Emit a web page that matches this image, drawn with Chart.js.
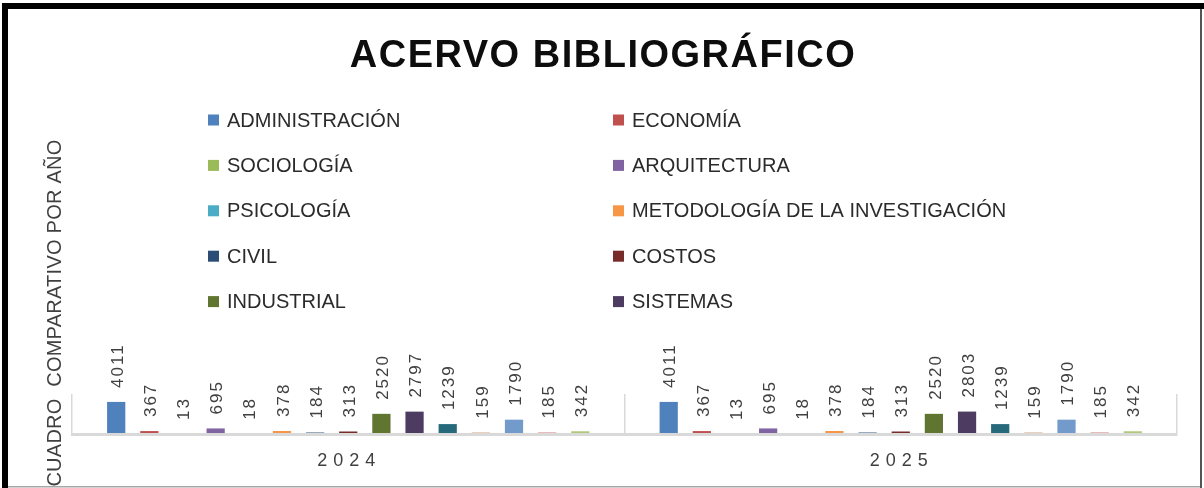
<!DOCTYPE html>
<html>
<head>
<meta charset="utf-8">
<script src="https://cdn.jsdelivr.net/npm/chart.js@4"></script>
<style>
  body { margin: 0; background: #fff; }
  #wrap { width: 1204px; height: 488px; }
</style>
</head>
<body>
<div id="wrap"><canvas id="chart" width="1204" height="488"></canvas></div>
<script>
const years = ['2024', '2025'];
const seriesNames = [
    'ADMINISTRACIÓN', 'ECONOMÍA', 'SOCIOLOGÍA', 'ARQUITECTURA', 'PSICOLOGÍA',
    'METODOLOGÍA DE LA INVESTIGACIÓN', 'CIVIL', 'COSTOS', 'INDUSTRIAL', 'SISTEMAS',
    '', '', '', '', ''
];
const values2024 = [4011, 367, 13, 695, 18, 378, 184, 313, 2520, 2797, 1239, 159, 1790, 185, 342];
const values2025 = [4011, 367, 13, 695, 18, 378, 184, 313, 2520, 2803, 1239, 159, 1790, 185, 342];
const seriesColors = [
    '#4F81BD', '#C0504D', '#9BBB59', '#8064A2', '#4BACC6',
    '#F79646', '#2C4D75', '#772C2A', '#5F7530', '#4D3B62',
    '#276A7C', '#B65708', '#729ACA', '#CD7371', '#AFC97A'
];
const chartTitle = 'ACERVO BIBLIOGRÁFICO';
const yTitle = 'CUADRO  COMPARATIVO POR AÑO';

const datasets = seriesNames.map((name, i) => ({
    label: name,
    data: [values2024[i], values2025[i]],
    backgroundColor: seriesColors[i],
    borderWidth: 0,
    barPercentage: 0.55,
    categoryPercentage: 0.9
}));

// white page, frame, title, legend, axis title, value labels
const decor = {
    id: 'decor',
    beforeDraw(chart) {
        const ctx = chart.ctx;
        ctx.save();
        ctx.fillStyle = '#fff';
        ctx.fillRect(0, 0, chart.width, chart.height);
        ctx.restore();
    },
    afterDraw(chart) {
        const ctx = chart.ctx;
        const x = chart.scales.x;

        // value labels
        ctx.save();
        ctx.font = '17px "Liberation Sans", Arial, sans-serif';
        ctx.letterSpacing = '2px';
        ctx.fillStyle = '#404040';
        ctx.textAlign = 'left';
        ctx.textBaseline = 'middle';
        chart.data.datasets.forEach((ds, i) => {
            chart.getDatasetMeta(i).data.forEach((bar, j) => {
                ctx.save();
                ctx.translate(bar.x + 2, bar.y - 14);
                ctx.rotate(-Math.PI / 2);
                ctx.fillText(String(ds.data[j]), 0, 0);
                ctx.restore();
            });
        });
        ctx.restore();

        // category labels
        ctx.save();
        ctx.font = '18px "Liberation Sans", Arial, sans-serif';
        ctx.letterSpacing = '6px';
        ctx.fillStyle = '#404040';
        ctx.textAlign = 'center';
        ctx.textBaseline = 'middle';
        chart.data.labels.forEach((lab, i) => {
            ctx.fillText(lab, x.getPixelForValue(i) + 1, 461);
        });
        ctx.restore();

        // title
        ctx.save();
        ctx.font = 'bold 38px "Liberation Sans", Arial, sans-serif';
        ctx.letterSpacing = '1.5px';
        ctx.fillStyle = '#0d0d0d';
        ctx.textAlign = 'center';
        ctx.textBaseline = 'alphabetic';
        ctx.fillText(chartTitle, 603, 67);
        ctx.restore();

        // y axis title
        ctx.save();
        ctx.font = '20px "Liberation Sans", Arial, sans-serif';
        ctx.letterSpacing = '0.25px';
        ctx.fillStyle = '#404040';
        ctx.textAlign = 'center';
        ctx.textBaseline = 'middle';
        ctx.translate(55, 313);
        ctx.rotate(-Math.PI / 2);
        ctx.fillText(yTitle, 0, 0);
        ctx.restore();

        // legend, two columns, only the named series
        ctx.save();
        ctx.font = '20px "Liberation Sans", Arial, sans-serif';
        ctx.textAlign = 'left';
        ctx.textBaseline = 'middle';
        const colX = [208, 613];
        chart.data.datasets.forEach((ds, i) => {
            if (!ds.label) return;
            const cx = colX[i % 2];
            const cy = 120 + Math.floor(i / 2) * 45.4;
            ctx.fillStyle = ds.backgroundColor;
            ctx.fillRect(cx, cy - 5.5, 11, 11);
            ctx.fillStyle = '#2b2b2b';
            ctx.fillText(ds.label, cx + 19, cy + 1);
        });
        ctx.restore();

        // frame
        ctx.save();
        ctx.fillStyle = '#000';
        ctx.fillRect(2, 3, chart.width - 2, 6);
        ctx.fillRect(2, 3, 6, chart.height - 3);
        ctx.fillStyle = '#555';
        ctx.fillRect(1200, 9, 2, chart.height - 9);
        ctx.fillStyle = '#a6a6a6';
        ctx.fillRect(8, 486, 1192, 1.5);
        ctx.restore();
    }
};

new Chart(document.getElementById('chart'), {
    type: 'bar',
    data: { labels: years, datasets: datasets },
    options: {
        responsive: false,
        animation: false,
        layout: { padding: { left: 72, right: 27, top: 394, bottom: 54 } },
        plugins: {
            legend: { display: false },
            title: { display: false },
            tooltip: { enabled: false }
        },
        scales: {
            x: {
                ticks: { display: false },
                grid: { color: '#d9d9d9', lineWidth: 1.5, drawTicks: false, offset: true },
                border: { color: '#d9d9d9', width: 3, z: 1 }
            },
            y: {
                display: false,
                min: 0,
                max: 5000
            }
        }
    },
    plugins: [decor]
});
</script>
</body>
</html>
